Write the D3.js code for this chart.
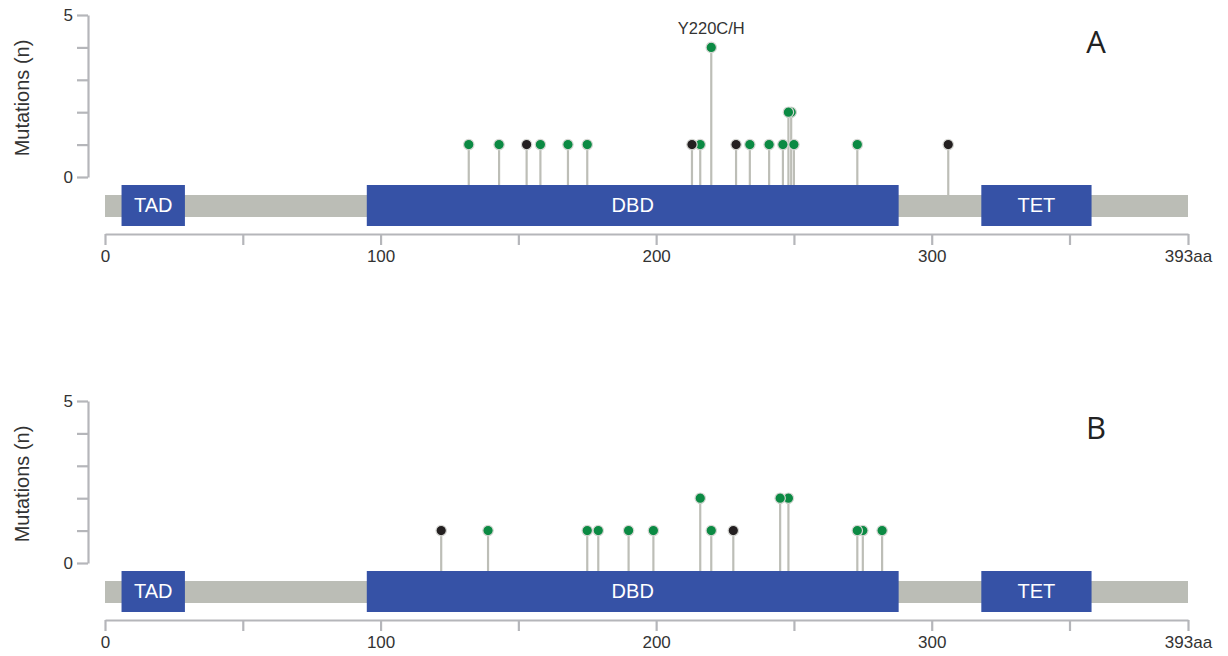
<!DOCTYPE html>
<meta charset="utf-8">
<head>
  <title>TP53 lollipop plot</title>
</head>
<style>
body { margin: 0; background: #fff; }
text { font-family: "Liberation Sans", Arial, sans-serif; }
.axis path, .axis line { stroke: #b5b6ba; stroke-width: 2.2; fill: none; }
.axis text { fill: #333; font-size: 17px; }
</style>
<body>
<svg width="1228" height="656"></svg>
<script src="https://cdnjs.cloudflare.com/ajax/libs/d3/7.8.5/d3.min.js"></script>
<script>
var width = 1228, height = 656
var proteinLength = 393

// domains of the protein
var domainNames = ["TAD", "DBD", "TET"]
var domainStart = [6, 95, 318]
var domainEnd = [29, 288, 358]

// panel A mutations
var posA = [132, 143, 153, 158, 168, 175, 213, 216, 220, 229, 234, 241, 246, 248, 249, 250, 273, 306]
var countA = [1, 1, 1, 1, 1, 1, 1, 1, 4, 1, 1, 1, 1, 2, 2, 1, 1, 1]
var typeA = ["g", "g", "k", "g", "g", "g", "k", "g", "g", "k", "g", "g", "g", "g", "g", "g", "g", "k"]

// panel B mutations
var posB = [122, 139, 175, 179, 190, 199, 216, 220, 228, 245, 248, 273, 275, 282]
var countB = [1, 1, 1, 1, 1, 1, 2, 1, 1, 2, 2, 1, 1, 1]
var typeB = ["k", "g", "g", "g", "g", "g", "g", "g", "k", "g", "g", "g", "g", "g"]

var xTicks = [0, 50, 100, 150, 200, 250, 300, 350, 393]
var yTicks = [0, 1, 2, 3, 4, 5]

var colors = {g: "#0b8a43", k: "#231f20"}

var x = d3.scaleLinear().domain([0, proteinLength]).range([105, 1188])
var y = d3.scaleLinear().domain([0, 5]).range([177, 15])

var svg = d3.select("svg")

function drawPanel(offset, letter, pos, count, type, labels) {
  var g = svg.append("g").attr("transform", "translate(0," + offset + ")")

  // y axis
  g.append("g")
    .attr("class", "axis")
    .attr("transform", "translate(88,0)")
    .call(d3.axisLeft(y).tickValues(yTicks).tickSize(11).tickSizeOuter(0)
      .tickFormat(function(d) { return (d == 0 || d == 5) ? d : "" }))
    .selectAll("text").attr("x", -15)

  g.append("text")
    .attr("transform", "translate(29,98) rotate(-90)")
    .attr("text-anchor", "middle")
    .style("font-size", "20px")
    .attr("fill", "#333")
    .text("Mutations (n)")

  // x axis
  g.append("g")
    .attr("class", "axis")
    .attr("transform", "translate(0,234)")
    .call(d3.axisBottom(x).tickValues(xTicks).tickSize(11).tickSizeOuter(0)
      .tickFormat(function(d) {
        if (d == 393) return "393aa"
        return d % 100 == 0 ? d : ""
      }))
    .selectAll("text").attr("y", 16)

  var mut = pos.map(function(p, i) { return {pos: p, n: count[i], t: type[i]} })

  // stems
  g.selectAll(".stem")
    .data(mut)
    .enter()
    .append("line")
    .attr("x1", function(d) { return x(d.pos) })
    .attr("x2", function(d) { return x(d.pos) })
    .attr("y1", 195)
    .attr("y2", function(d) { return y(d.n) })
    .attr("stroke", "#bdbeb7")
    .attr("stroke-width", 2.2)

  // backbone
  g.append("rect")
    .attr("x", x(0))
    .attr("y", 195)
    .attr("width", x(proteinLength) - x(0))
    .attr("height", 22)
    .attr("fill", "#bbbdb6")

  // domains
  domainNames.forEach(function(name, i) {
    g.append("rect")
      .attr("x", x(domainStart[i]))
      .attr("y", 185)
      .attr("width", x(domainEnd[i]) - x(domainStart[i]))
      .attr("height", 41)
      .attr("fill", "#3652a6")
    g.append("text")
      .attr("x", (x(domainStart[i]) + x(domainEnd[i])) / 2)
      .attr("y", 212)
      .attr("text-anchor", "middle")
      .attr("fill", "#fff")
      .style("font-size", "20px")
      .text(name)
  })

  // heads, right to left so the left one sits on top
  g.selectAll(".head")
    .data(mut.slice().reverse())
    .enter()
    .append("circle")
    .attr("cx", function(d) { return x(d.pos) })
    .attr("cy", function(d) { return y(d.n) })
    .attr("r", 5.2)
    .attr("fill", function(d) { return colors[d.t] })
    .attr("stroke", "#d5d6d2")
    .attr("stroke-width", 1.2)

  labels.forEach(function(l) {
    g.append("text")
      .attr("x", x(l.pos))
      .attr("y", y(l.n) - 13)
      .attr("text-anchor", "middle")
      .attr("fill", "#333")
      .style("font-size", "16.5px")
      .text(l.text)
  })

  g.append("text")
    .attr("x", 1096)
    .attr("y", 53)
    .attr("text-anchor", "middle")
    .attr("fill", "#222")
    .style("font-family", "'Open Sans', sans-serif")
    .style("font-size", "31px")
    .text(letter)
}

drawPanel(0, "A", posA, countA, typeA, [{pos: 220, n: 4, text: "Y220C/H"}])
drawPanel(386, "B", posB, countB, typeB, [])
</script>
</body>
